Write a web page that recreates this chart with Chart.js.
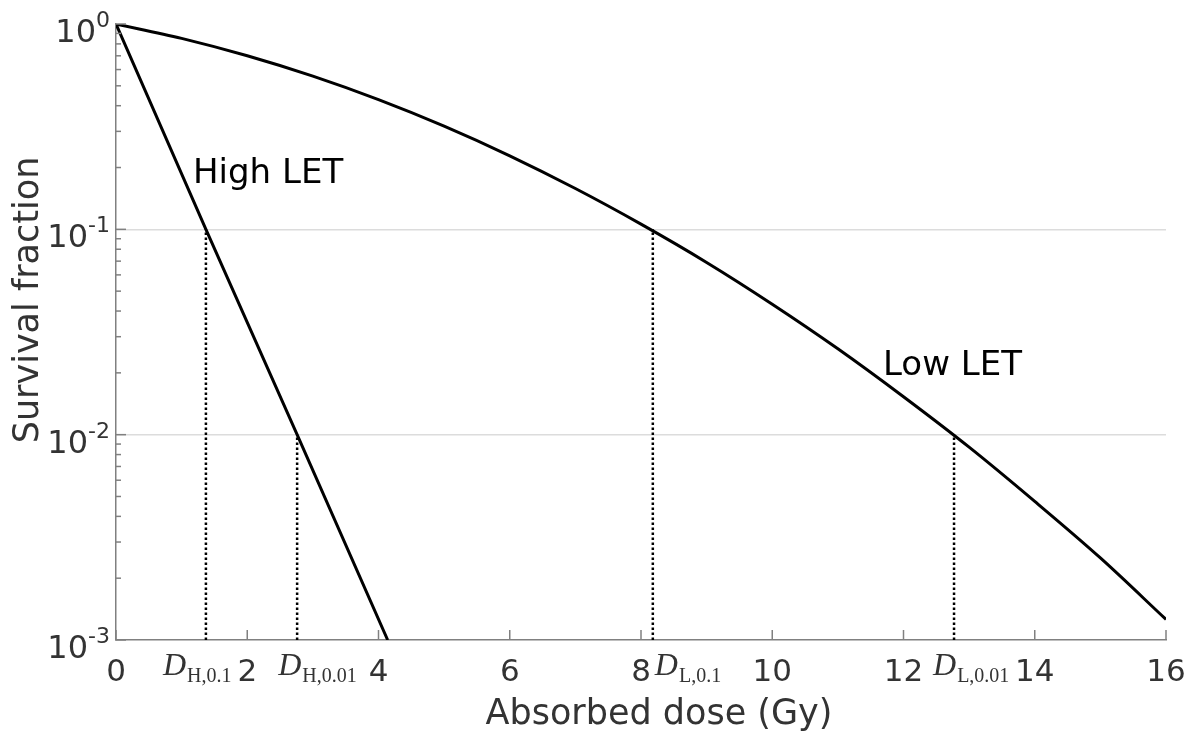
<!DOCTYPE html>
<html>
<head>
<meta charset="utf-8">
<script src="https://cdn.jsdelivr.net/npm/chart.js@4.4.1/dist/chart.umd.min.js"></script>
<style>
    body { margin: 0; background: #fff; }
    #wrap { width: 1200px; height: 736px; position: relative; }
</style>
</head>
<body>
<div id="wrap"><canvas id="survival_chart"></canvas></div>
<script>
// Absorbed dose (Gy) vs survival fraction
const lowDose = [0, 1, 2, 3, 4, 5, 6, 7, 8, 9, 10, 11, 12, 13, 14, 15, 16];
const lowSurvival = [1, 0.851, 0.700, 0.557, 0.428, 0.318, 0.228, 0.158, 0.106, 0.0690,
    0.0432, 0.0262, 0.0153, 0.00869, 0.00473, 0.00251, 0.00126];
const highDose = [0, 1.37, 2.76, 4.14];
const highSurvival = [1, 0.1, 0.01, 0.001];

// doses giving 10% and 1% survival (dotted drop lines)
const markerSub = ['H,0.1', 'H,0.01', 'L,0.1', 'L,0.01'];
const markerDose = [1.37, 2.76, 8.18, 12.77];
const markerSurvival = [0.1, 0.01, 0.1, 0.01];

const xTicks = [0, 2, 4, 6, 8, 10, 12, 14, 16];
const yTicks = [1, 0.1, 0.01, 0.001];
const yTickExp = ['0', '-1', '-2', '-3'];

function toPoints(xs, ys) {
    return xs.map((v, i) => ({ x: v, y: ys[i] }));
}

const SANS = '"DejaVu Sans", Verdana, sans-serif';
const SERIF = '"Liberation Serif", "Times New Roman", serif';

var datasets = [
    {
        label: 'Low LET',
        data: toPoints(lowDose, lowSurvival),
        borderColor: '#000',
        borderWidth: 3,
        pointRadius: 0,
        cubicInterpolationMode: 'monotone'
    },
    {
        label: 'High LET',
        data: toPoints(highDose, highSurvival),
        borderColor: '#000',
        borderWidth: 3,
        pointRadius: 0
    }
];
markerDose.forEach(function (d, i) {
    datasets.push({
        label: 'D ' + markerSub[i],
        data: [{ x: d, y: 0.001 }, { x: d, y: markerSurvival[i] }],
        borderColor: '#000',
        borderWidth: 2.5,
        borderDash: [2.5, 2.5],
        pointRadius: 0
    });
});

// labels and tick marks drawn by hand (superscripts, italic D, inward ticks)
const decorations = {
    id: 'decorations',
    afterDraw(chart) {
        const ctx = chart.ctx;
        const area = chart.chartArea;
        const x = chart.scales.x;
        const y = chart.scales.y;
        ctx.save();

        ctx.strokeStyle = '#808080';
        ctx.lineWidth = 1.5;
        function seg(x1, y1, x2, y2) {
            ctx.beginPath(); ctx.moveTo(x1, y1); ctx.lineTo(x2, y2); ctx.stroke();
        }
        xTicks.forEach(function (v) {
            const px = x.getPixelForValue(v);
            seg(px, area.bottom, px, area.bottom - 10);
        });
        for (let e = -3; e <= 0; e++) {
            for (let m = 1; m <= 9; m++) {
                const v = m * Math.pow(10, e);
                if (v > 1.0001) break;
                const py = y.getPixelForValue(v);
                seg(area.left, py, area.left + (m === 1 ? 10 : 5), py);
            }
        }

        ctx.fillStyle = '#333';
        ctx.textBaseline = 'alphabetic';

        // y tick labels 10^n
        yTicks.forEach(function (v, i) {
            const py = y.getPixelForValue(v);
            ctx.font = '22px ' + SANS;
            const supW = ctx.measureText(yTickExp[i]).width;
            ctx.textAlign = 'left';
            ctx.fillText(yTickExp[i], area.left - 6 - supW, py + 3);
            ctx.font = '32px ' + SANS;
            ctx.textAlign = 'right';
            ctx.fillText('10', area.left - 6 - supW, py + 18);
        });

        // x tick labels
        ctx.font = '31px ' + SANS;
        ctx.textAlign = 'center';
        xTicks.forEach(function (v) {
            ctx.fillText(String(v), x.getPixelForValue(v), area.bottom + 41);
        });

        // D labels under the dotted lines
        const dOffset = [-43, -19, 2, -21];
        markerDose.forEach(function (d, i) {
            let px = x.getPixelForValue(d) + dOffset[i];
            ctx.textAlign = 'left';
            ctx.font = 'italic 32px ' + SERIF;
            ctx.fillText('D', px, area.bottom + 35);
            px += ctx.measureText('D').width + 1;
            ctx.font = '20px ' + SERIF;
            ctx.fillText(markerSub[i], px, area.bottom + 42);
        });

        // axis titles
        ctx.font = '35px ' + SANS;
        ctx.textAlign = 'center';
        ctx.fillText('Absorbed dose (Gy)', (area.left + area.right) / 2 + 18, area.bottom + 84);
        ctx.save();
        ctx.translate(38, (area.top + area.bottom) / 2 - 32);
        ctx.rotate(-Math.PI / 2);
        ctx.fillText('Survival fraction', 0, 0);
        ctx.restore();

        // curve names
        ctx.fillStyle = '#000';
        ctx.font = '34px ' + SANS;
        ctx.textAlign = 'left';
        ctx.fillText('High LET', 193, 183);
        ctx.fillText('Low LET', 883, 375);

        ctx.restore();
    }
};

document.addEventListener('DOMContentLoaded', function () {
    const ctx1 = document.getElementById('survival_chart').getContext('2d');
    var chart1 = new Chart(ctx1, {
        type: 'line',
        data: { datasets: datasets },
        options: {
            responsive: true,
            maintainAspectRatio: false,
            animation: false,
            layout: { padding: { top: 24, right: 34, left: 0, bottom: 0 } },
            plugins: {
                legend: { display: false },
                tooltip: { enabled: false }
            },
            scales: {
                x: {
                    type: 'linear',
                    min: 0,
                    max: 16,
                    ticks: { display: false },
                    grid: { display: false },
                    border: { display: true, color: '#808080', width: 1.5 },
                    afterFit: function (scale) { scale.height = 96; }
                },
                y: {
                    type: 'logarithmic',
                    min: 0.001,
                    max: 1,
                    ticks: { display: false },
                    grid: {
                        drawTicks: false,
                        color: function (c) {
                            const v = c.tick ? c.tick.value : 0;
                            return (Math.abs(v - 0.1) < 1e-9 || Math.abs(v - 0.01) < 1e-9) ? '#dcdcdc' : 'rgba(0,0,0,0)';
                        },
                        lineWidth: 1.5
                    },
                    border: { display: true, color: '#808080', width: 1.5 },
                    afterFit: function (scale) { scale.width = 116; }
                }
            }
        },
        plugins: [decorations]
    });
});
</script>
</body>
</html>
